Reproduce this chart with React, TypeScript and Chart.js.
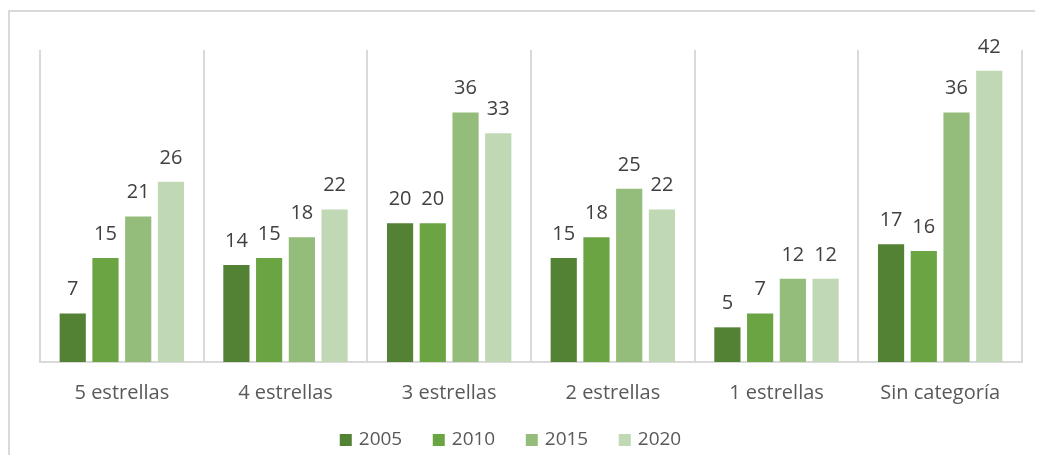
import React, { useEffect, useRef } from "react";
import { Chart, registerables } from "chart.js";

Chart.register(...registerables);

const categories = ["5 estrellas", "4 estrellas", "3 estrellas", "2 estrellas", "1 estrellas", "Sin categoría"];
const seriesNames = ["2005", "2010", "2015", "2020"];
const values2005 = [7, 14, 20, 15, 5, 17];
const values2010 = [15, 15, 20, 18, 7, 16];
const values2015 = [21, 18, 36, 25, 12, 36];
const values2020 = [26, 22, 33, 22, 12, 42];
const colors = ["#548235", "#6AA443", "#94BC7B", "#C0D8B4"];

const FONT = "'Open Sans', sans-serif";

const labelPlugin = {
  id: "barLabels",
  afterDatasetsDraw(chart: any) {
    const ctx = chart.ctx;
    ctx.save();
    ctx.font = `20px ${FONT}`;
    ctx.fillStyle = "#404040";
    ctx.textAlign = "center";
    ctx.textBaseline = "alphabetic";
    chart.data.datasets.forEach((ds: any, i: number) => {
      const meta = chart.getDatasetMeta(i);
      meta.data.forEach((el: any, j: number) => {
        ctx.fillText(String(ds.data[j]), el.x, el.y - 18);
      });
    });
    ctx.restore();
  },
};

const legendPlugin = {
  id: "bottomLegend",
  afterDraw(chart: any) {
    const ctx = chart.ctx;
    ctx.save();
    ctx.font = `19px ${FONT}`;
    ctx.textBaseline = "middle";
    ctx.textAlign = "left";
    const step = 93;
    const box = 12;
    const gap = 7;
    const dsets = chart.data.datasets;
    const lastW = box + gap + ctx.measureText(dsets[dsets.length - 1].label).width;
    const total = step * (dsets.length - 1) + lastW;
    const centerX = 500.5;
    const cy = 428;
    let x = centerX - total / 2;
    dsets.forEach((ds: any) => {
      ctx.fillStyle = ds.backgroundColor;
      ctx.fillRect(x, cy - box / 2, box, box);
      ctx.fillStyle = "#595959";
      ctx.fillText(ds.label, x + box + gap, cy);
      x += step;
    });
    ctx.restore();
  },
};

export default function App() {
  const ref = useRef<HTMLCanvasElement>(null);
  useEffect(() => {
    if (!ref.current) return;
    const all = [values2005, values2010, values2015, values2020];
    const chart = new Chart(ref.current, {
      type: "bar",
      data: {
        labels: categories,
        datasets: all.map((d, i) => ({
          label: seriesNames[i],
          data: d,
          backgroundColor: colors[i],
          borderWidth: 0,
          categoryPercentage: 0.8,
          barPercentage: 0.8,
        })),
      },
      options: {
        animation: false,
        responsive: false,
        layout: { padding: { left: 30, right: 21, top: 38, bottom: 31 } },
        scales: {
          x: {
            grid: { display: true, offset: true, color: "#D9D9D9", lineWidth: 2, drawTicks: false },
            border: { display: true, color: "#D9D9D9", width: 2 },
            ticks: { color: "#595959", font: { family: FONT, size: 20 }, padding: 19 },
          },
          y: {
            display: false,
            min: 0,
            max: 45,
          },
        },
        plugins: {
          legend: { display: false },
          tooltip: { enabled: false },
        },
      },
      plugins: [labelPlugin, legendPlugin],
    });
    return () => chart.destroy();
  }, []);
  return (
    <div
      style={{
        marginTop: 2,
        width: 1033,
        height: 443,
        borderTop: "2px solid #D9D9D9",
        borderLeft: "2px solid #D9D9D9",
        overflow: "hidden",
        boxSizing: "content-box",
      }}
    >
      <canvas ref={ref} width={1033} height={443} style={{ display: "block", width: 1033, height: 443 }} />
    </div>
  );
}
